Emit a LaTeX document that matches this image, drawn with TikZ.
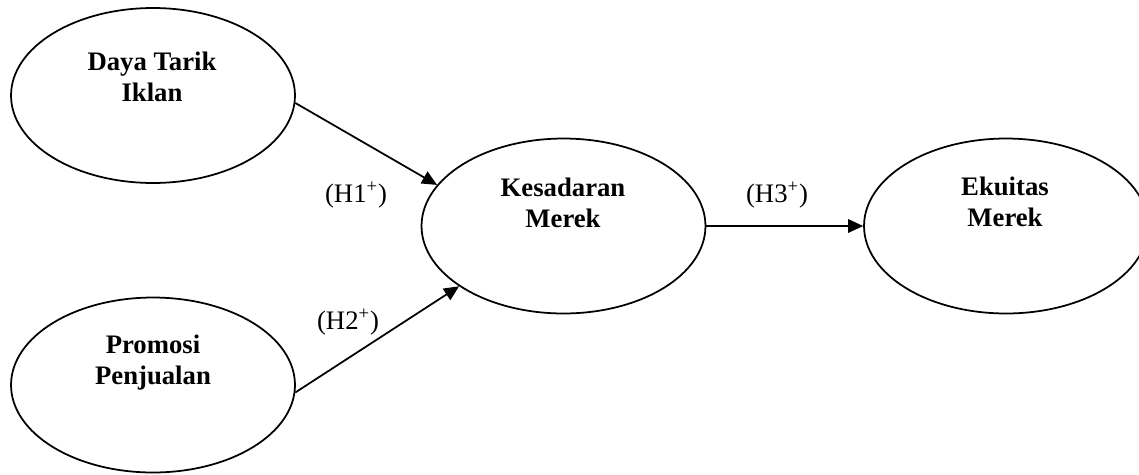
\documentclass[tikz,border=0pt]{standalone}
\usepackage{fontspec}
\setmainfont{Liberation Serif}
\usepackage{tikz}
\usetikzlibrary{shapes.geometric, arrows.meta, positioning}

\tikzset{
    construct/.style={ellipse, draw=black, line width=1pt, minimum width=5.68cm, minimum height=3.5cm, inner sep=0pt},
    cname/.style={align=center, font=\bfseries\fontsize{15.2}{17.6}\selectfont},
    hyp/.style={font=\fontsize{15.2}{17.6}\selectfont},
    path/.style={line width=1pt, -{Triangle[length=0.3cm, width=0.27cm]}}
}

\begin{document}
\begin{tikzpicture}[x=0.02cm, y=-0.02cm]
    \useasboundingbox (0,0) rectangle (1139,474);

    % Constructs
    \node[construct] (daya) at (153,95.5) {};
    \node[construct] (promosi) at (153,385) {};
    \node[construct] (kesadaran) at (563.5,226) {};
    \node[construct] (ekuitas) at (1006,226) {};

    % Construct names
    \node[cname] (tdaya) at (152,77) {Daya Tarik\\Iklan};
    \node[cname] (tpromosi) at (153,363) {Promosi\\Penjualan};
    \node[cname] (tkesadaran) at (563,203) {Kesadaran\\Merek};
    \node[cname] (tekuitas) at (1005,202) {Ekuitas\\Merek};

    % Hypotheses
    \draw[path] (daya.-3) -- (kesadaran.162);
    \draw[path] (promosi.-3) -- (kesadaran.210);
    \draw[path] (kesadaran.east) -- (ekuitas.west);

    \node[hyp] (h1) at (356,195) {(H1\textsuperscript{+})};
    \node[hyp] (h2) at (348,322) {(H2\textsuperscript{+})};
    \node[hyp] (h3) at (777,195) {(H3\textsuperscript{+})};
\end{tikzpicture}
\end{document}
